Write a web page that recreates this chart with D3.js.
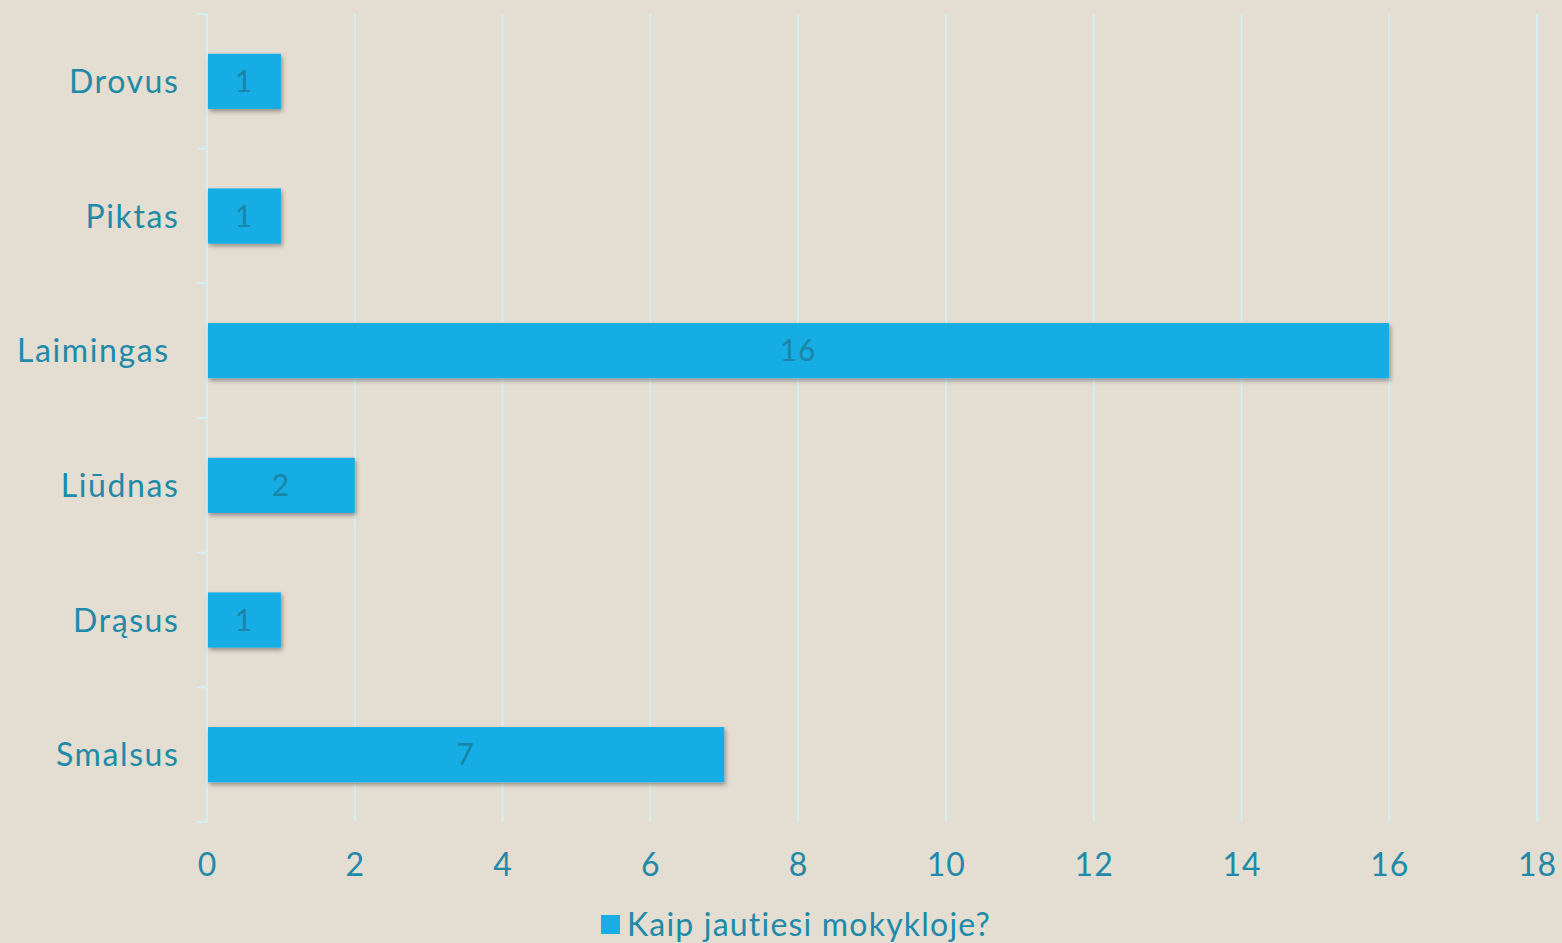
<!DOCTYPE html>
<html><head><meta charset="utf-8">
<script src="https://cdn.jsdelivr.net/npm/d3@7"></script>
<style>
html,body{margin:0;padding:0;background:#e3ddd2;}
svg{display:block;font-family:Lato,"Open Sans",sans-serif;}
</style></head>
<body>
<svg id="chart" width="1562" height="943"></svg>
<script>
const categories = ["Drovus","Piktas","Laimingas ","Liūdnas","Drąsus","Smalsus"];
const values = [1,1,16,2,1,7];
const xTicks = [0,2,4,6,8,10,12,14,16,18];
const seriesName = "Kaip jautiesi mokykloje?";

const svg = d3.select("#chart");
const W = 1562, H = 943;
const m = {left:207, right:25, top:14, bottom:121};
const x = d3.scaleLinear().domain([0,18]).range([m.left, W - m.right]);
const y = d3.scaleBand().domain(categories).range([m.top, H - m.bottom]).paddingInner(0.59).paddingOuter(0.295);
const band = d3.scaleBand().domain(categories).range([m.top, H - m.bottom]);

const textCol = "#2189a8";
const gridCol = "#d4eef2";
const barCol = "#19ade4";

svg.append("rect").attr("width",W).attr("height",H).attr("fill","#e3ddd2");

const defs = svg.append("defs");
const f = defs.append("filter").attr("id","sh").attr("x","-10%").attr("y","-20%").attr("width","130%").attr("height","160%");
f.append("feDropShadow").attr("dx",1.5).attr("dy",2.5).attr("stdDeviation",2).attr("flood-color","#000").attr("flood-opacity",0.35);

// gridlines
svg.append("g").selectAll("line").data(xTicks.filter(d=>d>0)).join("line")
  .attr("x1",d=>x(d)).attr("x2",d=>x(d))
  .attr("y1",m.top).attr("y2",H-m.bottom)
  .attr("stroke",gridCol).attr("stroke-width",2);

// y axis line + ticks at band boundaries
svg.append("line").attr("x1",x(0)).attr("x2",x(0)).attr("y1",m.top).attr("y2",H-m.bottom)
  .attr("stroke",gridCol).attr("stroke-width",2);
const bounds = categories.map(c=>band(c)).concat([H-m.bottom]);
svg.append("g").selectAll("line").data(bounds).join("line")
  .attr("x1",x(0)-10).attr("x2",x(0)).attr("y1",d=>d).attr("y2",d=>d)
  .attr("stroke",gridCol).attr("stroke-width",2);

// bars
svg.append("g").selectAll("rect").data(categories).join("rect")
  .attr("x",x(0)+1).attr("y",c=>y(c))
  .attr("width",(c,i)=>x(values[i])-x(0)-1).attr("height",y.bandwidth())
  .attr("fill",barCol).attr("filter","url(#sh)");

// data labels
svg.append("g").selectAll("text").data(categories).join("text")
  .attr("x",(c,i)=>(x(0)+x(values[i]))/2).attr("y",c=>y(c)+y.bandwidth()/2)
  .attr("dy","0.36em").attr("text-anchor","middle")
  .attr("fill","#1985a8").attr("font-size",30).attr("letter-spacing",1)
  .text((c,i)=>values[i]);

// category labels
svg.append("g").selectAll("text").data(categories).join("text")
  .attr("x",179.5).attr("y",c=>y(c)+y.bandwidth()/2)
  .attr("dy","0.36em").attr("text-anchor","end")
  .attr("fill",textCol).attr("font-size",32).attr("letter-spacing",1.6)
  .style("white-space","pre")
  .text(c=>c);

// x tick labels
svg.append("g").selectAll("text").data(xTicks).join("text")
  .attr("x",d=>x(d)+0.5).attr("y",864).attr("dy","0.36em").attr("text-anchor","middle")
  .attr("fill",textCol).attr("font-size",32).attr("letter-spacing",1).text(d=>d);

// legend
const lg = svg.append("g");
lg.append("rect").attr("x",601).attr("y",915).attr("width",19).attr("height",19).attr("fill",barCol);
lg.append("text").attr("x",627).attr("y",924).attr("dy","0.36em").attr("fill",textCol).attr("font-size",32).attr("letter-spacing",1.2).text(seriesName);
</script>
</body></html>
